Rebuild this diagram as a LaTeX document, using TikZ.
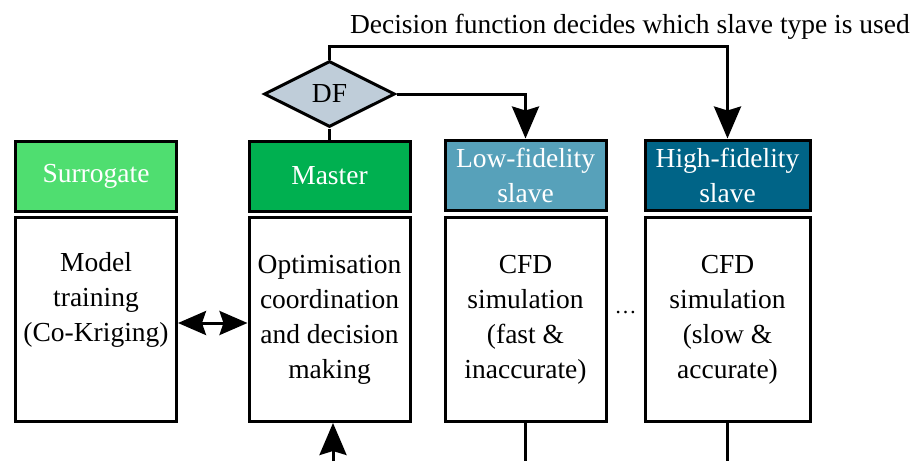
\documentclass[tikz,border=0pt]{standalone}
\usepackage{fontspec}
\setmainfont{Liberation Serif}
\usetikzlibrary{shapes.geometric,arrows.meta}
\definecolor{surr}{HTML}{4FDE70}
\definecolor{mast}{HTML}{00B050}
\definecolor{lowf}{HTML}{57A1BA}
\definecolor{highf}{HTML}{006487}
\definecolor{dfc}{HTML}{BFCDD9}
\tikzset{
  hdr/.style={draw, line width=3pt, rectangle, minimum width=161pt, minimum height=70pt, inner sep=0pt, align=center, text=white, font=\fontsize{27.5}{35}\selectfont},
  body/.style={draw, line width=3pt, rectangle, fill=white, minimum width=161pt, minimum height=204pt, inner sep=0pt, align=center, font=\fontsize{27.5}{35}\selectfont},
  conn/.style={line width=3pt},
  arr/.style={line width=3pt, -{Stealth[length=32pt,width=27pt,inset=4pt]}},
  darr/.style={line width=3pt, {Stealth[length=28pt,width=24pt,inset=4pt]}-{Stealth[length=28pt,width=24pt,inset=4pt]}},
}
\begin{document}
\begin{tikzpicture}[x=1pt,y=-1pt]
\useasboundingbox (0,0) rectangle (917,461);
\node[hdr, fill=surr] (sh) at (96,176) {Surrogate};
\node[body] (sb) at (96,319.5) {Model\\training\\(Co-Kriging)\\[10pt]\mbox{}};
\node[hdr, fill=mast] (mh) at (329.5,176) {Master};
\node[body] (mb) at (329.5,319.5) {Optimisation\\coordination\\and decision\\making};
\node[hdr, fill=lowf, text depth=0pt] (lh) at (525.5,175) {Low-fidelity\\slave};
\node[body] (lb) at (525.5,319.5) {CFD\\simulation\\(fast \&\\inaccurate)};
\node[hdr, fill=highf, minimum width=165pt, text depth=0pt] (hh) at (727.5,175) {High-fidelity\\slave};
\node[body, minimum width=165pt] (hb) at (727.5,319.5) {CFD\\simulation\\(slow \&\\accurate)};
\node[draw, line width=3pt, diamond, fill=dfc, minimum width=131pt, minimum height=66pt, inner sep=0pt, font=\fontsize{27.5}{30}\selectfont] (df) at (329.5,94) {DF};
\node[anchor=base east, inner sep=0pt, font=\fontsize{27.5}{30}\selectfont] (title) at (910,33) {Decision function decides which slave type is used};
\node[inner sep=0pt, font=\fontsize{22}{24}\selectfont] (dots) at (625.5,313) {\dots};
\coordinate (bin) at (333,461);
\coordinate (lout) at (525.5,461);
\coordinate (hout) at (727.5,461);
\draw[arr] (df.north) -- ++(0,-13) -| (hh.north);
\draw[arr] (df.east) -| (lh.north);
\draw[conn] (df.south) -- (mh.north);
\draw[darr] (sb.east |- 0,323) -- (mb.west |- 0,323);
\draw[arr] (bin) -- (bin |- mb.south);
\draw[conn] (lb.south) -- (lout);
\draw[conn] (hb.south) -- (hout);
\end{tikzpicture}
\end{document}
